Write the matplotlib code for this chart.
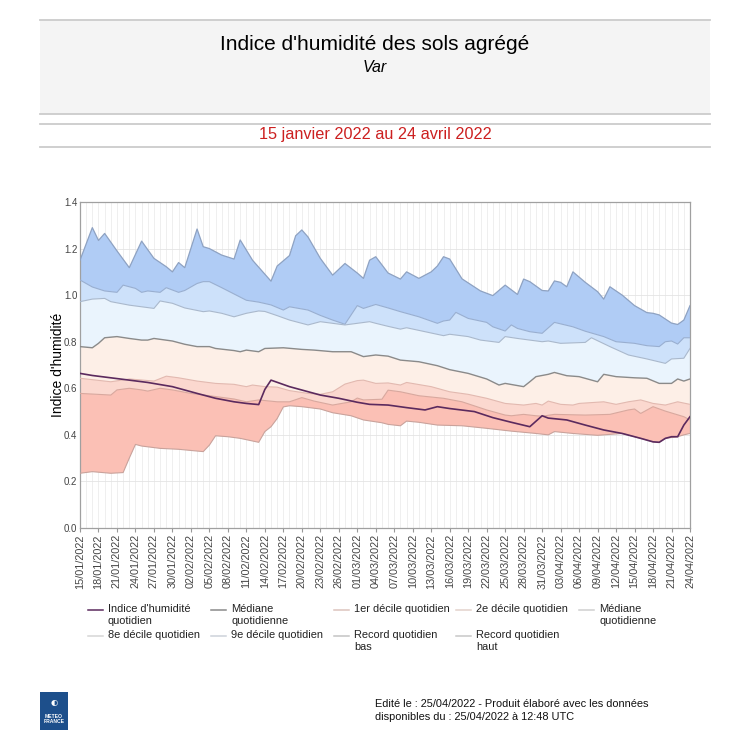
import matplotlib
matplotlib.use("Agg")
import matplotlib.pyplot as plt
from matplotlib.patches import Rectangle
from matplotlib.lines import Line2D
import pandas as pd

plt.rcParams['font.family'] = ['Liberation Sans', 'DejaVu Sans']

# jours comptés depuis le 15/01/2022
debut = pd.Timestamp('2022-01-15')
nb_jours = 100

# Record quotidien haut
haut_j = [0, 2, 3, 4, 6, 8, 10, 12, 14, 15, 16, 17, 19, 20, 21, 23, 25, 26, 28, 30, 31, 32, 34, 35, 36, 37,
          39, 41, 43, 45, 46, 47, 48, 50, 52, 53, 55, 57, 58, 59, 60, 62, 65, 67, 69, 71, 72, 73, 75, 76, 77,
          78, 79, 80, 82, 84, 85, 86, 88, 90, 92, 93, 94, 96, 97, 98, 99]
haut_v = [1.15, 1.29, 1.235, 1.265, 1.19, 1.118, 1.232, 1.158, 1.122, 1.10, 1.14, 1.118, 1.284, 1.208, 1.20,
          1.172, 1.155, 1.237, 1.15, 1.09, 1.06, 1.125, 1.17, 1.255, 1.28, 1.25, 1.158, 1.086, 1.136, 1.095,
          1.072, 1.15, 1.165, 1.095, 1.069, 1.10, 1.072, 1.10, 1.125, 1.165, 1.155, 1.07, 1.018, 0.998, 1.043,
          1.003, 1.069, 1.058, 1.02, 1.018, 1.061, 1.055, 1.036, 1.10, 1.055, 1.015, 0.983, 1.036, 1.0, 0.955,
          0.925, 0.922, 0.915, 0.88, 0.874, 0.893, 0.955]

# 9e décile quotidien
d9_j = [0, 2, 4, 6, 7, 9, 10, 11, 13, 14, 16, 17, 19, 20, 21, 23, 25, 27, 29, 31, 33, 34, 37, 39, 41, 43,
        45, 46, 48, 50, 52, 55, 58, 59, 60, 61, 63, 66, 67, 69, 70, 71, 73, 75, 77, 80, 82, 85, 87, 90, 92,
        94, 95, 96, 97, 98, 99]
d9_v = [1.065, 1.035, 1.018, 1.012, 1.043, 1.029, 1.012, 1.018, 1.012, 1.032, 1.012, 1.02, 1.05, 1.058,
        1.058, 1.032, 1.005, 0.978, 0.97, 0.958, 0.936, 0.95, 0.936, 0.913, 0.893, 0.875, 0.955, 0.943, 0.96,
        0.945, 0.929, 0.907, 0.879, 0.889, 0.893, 0.926, 0.90, 0.883, 0.864, 0.846, 0.872, 0.857, 0.843,
        0.836, 0.883, 0.864, 0.845, 0.822, 0.80, 0.793, 0.783, 0.779, 0.80, 0.803, 0.79, 0.817, 0.817]

# 8e décile quotidien
d8_j = [0, 2, 4, 5, 8, 10, 12, 13, 15, 17, 20, 21, 23, 25, 27, 29, 30, 32, 34, 37, 39, 41, 43, 45, 47, 48,
        50, 52, 53, 56, 59, 60, 63, 65, 68, 69, 71, 73, 75, 76, 78, 82, 83, 86, 89, 92, 95, 96, 98, 99]
d8_v = [0.972, 0.983, 0.986, 0.972, 0.957, 0.95, 0.943, 0.975, 0.965, 0.945, 0.929, 0.932, 0.922, 0.907,
        0.922, 0.932, 0.93, 0.912, 0.893, 0.872, 0.886, 0.879, 0.872, 0.879, 0.886, 0.879, 0.866, 0.854,
        0.86, 0.843, 0.826, 0.832, 0.822, 0.807, 0.797, 0.822, 0.814, 0.807, 0.80, 0.803, 0.793, 0.797,
        0.817, 0.779, 0.743, 0.726, 0.707, 0.726, 0.729, 0.771]

# Médiane quotidienne
med_j = [0, 2, 3, 4, 6, 8, 10, 11, 12, 15, 17, 19, 21, 22, 25, 26, 27, 29, 30, 33, 36, 38, 41, 44, 46, 48,
         50, 52, 55, 58, 60, 63, 66, 68, 69, 72, 73, 74, 76, 77, 79, 81, 84, 85, 87, 90, 92, 94, 96, 97, 98, 99]
med_v = [0.779, 0.774, 0.793, 0.817, 0.822, 0.814, 0.807, 0.807, 0.814, 0.803, 0.789, 0.779, 0.779, 0.771,
         0.762, 0.757, 0.764, 0.757, 0.771, 0.774, 0.767, 0.764, 0.757, 0.757, 0.736, 0.743, 0.738, 0.721,
         0.714, 0.697, 0.68, 0.664, 0.64, 0.614, 0.621, 0.607, 0.628, 0.65, 0.66, 0.668, 0.654, 0.65, 0.628,
         0.66, 0.65, 0.645, 0.643, 0.621, 0.621, 0.64, 0.631, 0.64]

# 2e décile quotidien
d2_j = [0, 5, 8, 12, 14, 16, 19, 22, 25, 27, 28, 30, 32, 34, 37, 39, 41, 43, 45, 46, 48, 50, 52, 53, 57,
        60, 63, 66, 69, 72, 74, 75, 76, 78, 80, 81, 85, 87, 89, 91, 93, 95, 97, 99]
d2_v = [0.643, 0.628, 0.64, 0.631, 0.652, 0.645, 0.631, 0.621, 0.617, 0.607, 0.614, 0.607, 0.605, 0.59,
        0.578, 0.574, 0.585, 0.618, 0.633, 0.635, 0.621, 0.623, 0.614, 0.625, 0.607, 0.585, 0.574, 0.557,
        0.535, 0.528, 0.535, 0.528, 0.545, 0.531, 0.528, 0.535, 0.542, 0.531, 0.542, 0.55, 0.535, 0.528,
        0.542, 0.531]

# 1er décile quotidien
d1_j = [0, 5, 6, 8, 10, 11, 13, 15, 18, 21, 25, 27, 29, 32, 34, 36, 38, 41, 44, 45, 46, 49, 50, 52, 55,
        59, 62, 66, 69, 70, 72, 74, 75, 77, 82, 86, 89, 90, 91, 93, 95, 98, 99]
d1_v = [0.578, 0.571, 0.593, 0.60, 0.593, 0.588, 0.60, 0.593, 0.578, 0.568, 0.554, 0.542, 0.55, 0.542,
        0.542, 0.56, 0.545, 0.528, 0.542, 0.558, 0.55, 0.553, 0.592, 0.585, 0.568, 0.557, 0.542, 0.507,
        0.485, 0.482, 0.488, 0.482, 0.48, 0.488, 0.485, 0.488, 0.507, 0.511, 0.492, 0.521, 0.502, 0.478,
        0.464]

# Record quotidien bas
bas_j = [0, 2, 5, 7, 8, 9, 10, 13, 16, 20, 21, 22, 24, 26, 29, 30, 31, 32, 33, 34, 36, 39, 41, 44, 46, 49,
         50, 52, 53, 55, 58, 62, 66, 70, 74, 76, 77, 80, 84, 88, 91, 93, 94, 95, 97, 98, 99]
bas_v = [0.235, 0.242, 0.235, 0.238, 0.30, 0.359, 0.352, 0.342, 0.338, 0.328, 0.356, 0.396, 0.392, 0.385,
         0.368, 0.414, 0.435, 0.47, 0.52, 0.525, 0.521, 0.511, 0.495, 0.482, 0.464, 0.452, 0.445, 0.439,
         0.459, 0.454, 0.442, 0.439, 0.428, 0.416, 0.406, 0.40, 0.414, 0.406, 0.398, 0.406, 0.385, 0.37,
         0.368, 0.385, 0.392, 0.40, 0.406]

# Indice d'humidité quotidien
ind_j = [0, 2, 5, 8, 11, 15, 19, 22, 25, 27, 29, 30, 31, 34, 39, 42, 45, 47, 50, 53, 56, 58, 60, 64, 67,
         70, 73, 75, 76, 79, 82, 85, 88, 91, 93, 94, 95, 96, 97, 98, 99]
ind_v = [0.664, 0.655, 0.645, 0.635, 0.625, 0.607, 0.578, 0.557, 0.542, 0.535, 0.53, 0.595, 0.635, 0.607,
         0.571, 0.557, 0.54, 0.531, 0.528, 0.517, 0.507, 0.521, 0.513, 0.50, 0.474, 0.454, 0.435, 0.482,
         0.472, 0.464, 0.442, 0.421, 0.406, 0.385, 0.37, 0.368, 0.385, 0.392, 0.392, 0.442, 0.478]

legende = ["Indice d'humidité\nquotidien", "Médiane\nquotidienne", "1er décile quotidien",
           "2e décile quotidien", "Médiane\nquotidienne", "8e décile quotidien", "9e décile quotidien",
           "Record quotidien\nbas", "Record quotidien\nhaut"]
couleurs_leg = ['#5b2a5e', '#8a8a8a', '#dcc3bd', '#e3d2cc', '#cfcfcf', '#d6d6d6', '#cdd2da',
                '#c4c4c4', '#c8c8c8']

W = H = 750
fig = plt.figure(figsize=(7.5, 7.5), dpi=100)


def fx(p):
    return p / W


def fy(p):
    return 1 - p / H


# bandeau titre
fig.add_artist(Rectangle((fx(40), fy(114)), fx(670), (114 - 20) / H, transform=fig.transFigure,
                         facecolor='#f4f4f4', edgecolor='none'))
for yy in [20, 114, 124, 147]:
    fig.add_artist(Line2D([fx(40), fx(710)], [fy(yy), fy(yy)], transform=fig.transFigure,
                          color='#cccccc', lw=1.3))
fig.text(0.5, fy(44), "Indice d'humidité des sols agrégé", ha='center', va='center', fontsize=15)
fig.text(0.5, fy(68), "Var", ha='center', va='center', fontsize=11.5, style='italic')
fig.text(0.5, fy(134), "15 janvier 2022 au 24 avril 2022", ha='center', va='center',
         fontsize=11.7, color='#cc2020')

ax = fig.add_axes([fx(80), fy(528), fx(610), (528 - 202) / H])


def bande(xh, yh, xb, yb, couleur):
    ax.fill(xh + xb[::-1], yh + yb[::-1], color=couleur, lw=0, zorder=2)


bande(haut_j, haut_v, d9_j, d9_v, '#b0ccf5')
bande(d9_j, d9_v, d8_j, d8_v, '#cde1fa')
bande(d8_j, d8_v, med_j, med_v, '#eaf4fd')
bande(med_j, med_v, d2_j, d2_v, '#fdefe7')
bande(d2_j, d2_v, d1_j, d1_v, '#fbd8cf')
bande(d1_j, d1_v, bas_j, bas_v, '#fbc0b5')

ax.plot(haut_j, haut_v, color='#8ea2c2', lw=0.9, zorder=3)
ax.plot(d9_j, d9_v, color='#98aed0', lw=0.8, zorder=3)
ax.plot(d8_j, d8_v, color='#a9b8cc', lw=0.8, zorder=3)
ax.plot(med_j, med_v, color='#8a8a8a', lw=1.0, zorder=3)
ax.plot(d2_j, d2_v, color='#e2b9b0', lw=0.8, zorder=3)
ax.plot(d1_j, d1_v, color='#d8a89e', lw=0.8, zorder=3)
ax.plot(bas_j, bas_v, color='#c9a29b', lw=0.8, zorder=3)
ax.plot(ind_j, ind_v, color='#5b2a5e', lw=1.2, zorder=4)

ax.set_xlim(0, nb_jours - 1)
ax.set_ylim(0, 1.4)
ax.set_yticks([0.0, 0.2, 0.4, 0.6, 0.8, 1.0, 1.2, 1.4])
ax.set_yticklabels(['%.1f' % v for v in ax.get_yticks()], fontsize=7, color='#444444')
ticks = list(range(0, nb_jours, 3))
ax.set_xticks(ticks)
ax.set_xticklabels([(debut + pd.Timedelta(days=d)).strftime('%d/%m/%Y') for d in ticks],
                   rotation=90, fontsize=7.8, color='#444444')
ax.set_xticks(range(nb_jours), minor=True)
ax.tick_params(axis='x', which='major', length=3, color='#999999', pad=1.5)
ax.tick_params(axis='x', which='minor', length=0)
ax.tick_params(axis='y', length=0, pad=2)
ax.grid(axis='x', which='both', color='#ededed', lw=0.6, zorder=0)
ax.grid(axis='y', which='major', color='#e4e4e4', lw=0.6, zorder=0)
ax.set_axisbelow(True)
for s in ax.spines.values():
    s.set_color('#a0a0a0')
    s.set_linewidth(0.9)
ax.set_ylabel("Indice d'humidité", fontsize=10, labelpad=-1)

# légende sur 2 rangées de 5 colonnes
col_x = [88, 211, 334, 456, 579]
rang_y = [610, 636]
for i, (lab, c) in enumerate(zip(legende, couleurs_leg)):
    x0 = col_x[i % 5]
    y0 = rang_y[i // 5]
    fig.add_artist(Line2D([fx(x0), fx(x0 + 15)], [fy(y0), fy(y0)], transform=fig.transFigure,
                          color=c, lw=1.1))
    fig.text(fx(x0 + 20), fy(y0 - 6), lab, ha='left', va='top', fontsize=7.9, color='#222222',
             linespacing=1.2)

# pied de page
fig.add_artist(Rectangle((fx(40), fy(730)), fx(28), 38 / H, transform=fig.transFigure,
                         facecolor='#1d4f8b', edgecolor='none'))
fig.text(fx(54), fy(703), "◐", ha='center', va='center', fontsize=6, color='white',
         family=['DejaVu Sans'])
fig.text(fx(54), fy(719), "METEO\nFRANCE", ha='center', va='center', fontsize=3.6, color='white',
         weight='bold', linespacing=1.1)
fig.text(fx(375), fy(699), "Edité le : 25/04/2022 - Produit élaboré avec les données\n"
         "disponibles du : 25/04/2022 à 12:48 UTC", ha='left', va='top', fontsize=7.9,
         color='#111111', linespacing=1.35)

fig.savefig('out.png', dpi=100, facecolor='white')
